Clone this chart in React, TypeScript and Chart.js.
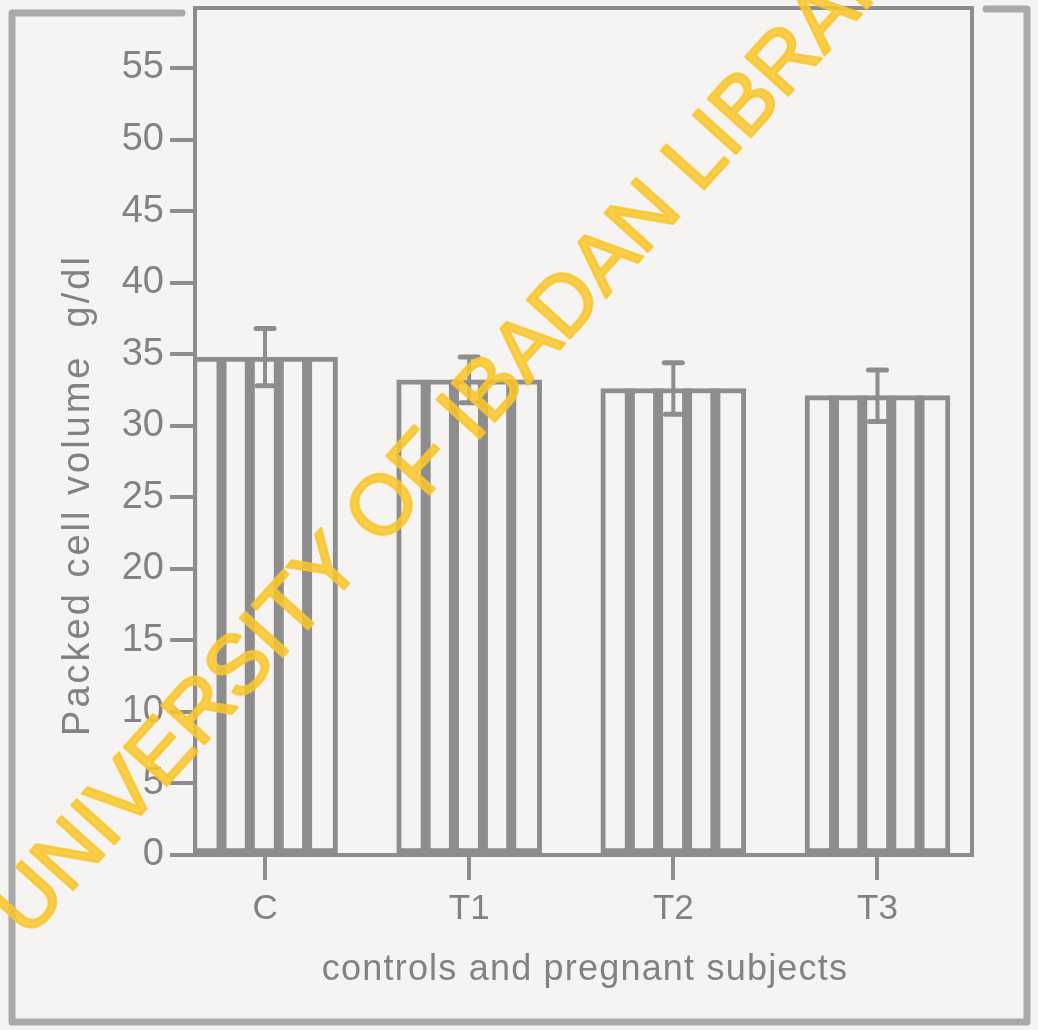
import React, { useEffect, useRef } from "react";
import { Chart, registerables } from "chart.js";

Chart.register(...registerables);

// ---- data ----
const CATEGORIES = ["C", "T1", "T2", "T3"];
const MEANS = [34.8, 33.2, 32.6, 32.1];
const ERRORS = [2.0, 1.6, 1.8, 1.8];
const Y_TICKS = [0, 5, 10, 15, 20, 25, 30, 35, 40, 45, 50, 55];
const Y_TITLE = "Packed cell volume  g/dl";
const X_TITLE = "controls and pregnant subjects";
const WATERMARK = "UNIVERSITY OF IBADAN LIBRARY";

// ---- style ----
const PAPER = "#f6f4f2";
const INK = "#8d8d8d";
const TEXT = "#828282";
const FAMILY = "'Liberation Sans', Arial, sans-serif";
const STRIPE_POS = [0.2, 0.395, 0.595, 0.79];
const STRIPE_W = 10;

const decorPlugin = {
  id: "decor",
  beforeDraw(chart: any) {
    const ctx = chart.ctx;
    ctx.save();
    ctx.strokeStyle = "rgba(150,150,150,0.8)";
    ctx.lineWidth = 7;
    ctx.lineCap = "round";
    ctx.lineJoin = "round";
    ctx.beginPath();
    ctx.moveTo(182, 13);
    ctx.lineTo(12, 13);
    ctx.lineTo(12, 1022);
    ctx.lineTo(1027, 1022);
    ctx.lineTo(1027, 9);
    ctx.lineTo(986, 9);
    ctx.stroke();
    ctx.restore();
  },
  afterDatasetsDraw(chart: any) {
    const ctx = chart.ctx;
    const meta = chart.getDatasetMeta(0);
    const xs = chart.scales.x;
    const ys = chart.scales.y;
    ctx.save();
    ctx.fillStyle = INK;
    meta.data.forEach((el: any) => {
      const p = el.getProps(["x", "y", "base", "width"], true);
      const left = p.x - p.width / 2;
      STRIPE_POS.forEach((f) => {
        const cx = left + f * p.width;
        ctx.fillRect(cx - STRIPE_W / 2, p.y, STRIPE_W, p.base - p.y);
      });
    });
    // error bars
    ctx.strokeStyle = INK;
    ctx.lineCap = "round";
    MEANS.forEach((m, i) => {
      const x = xs.getPixelForValue(i);
      const yt = ys.getPixelForValue(m + ERRORS[i]);
      const yb = ys.getPixelForValue(m - ERRORS[i]);
      ctx.lineWidth = 4;
      ctx.beginPath();
      ctx.moveTo(x, yt);
      ctx.lineTo(x, yb);
      ctx.stroke();
      ctx.lineWidth = 5;
      ctx.beginPath();
      ctx.moveTo(x - 9, yt);
      ctx.lineTo(x + 9, yt);
      ctx.moveTo(x - 8, yb);
      ctx.lineTo(x + 8, yb);
      ctx.stroke();
    });
    ctx.restore();
  },
  afterDraw(chart: any) {
    const ctx = chart.ctx;
    const a = chart.chartArea;
    ctx.save();
    // plot box top & right
    ctx.strokeStyle = INK;
    ctx.lineWidth = 4;
    ctx.beginPath();
    ctx.moveTo(a.left - 2, a.top);
    ctx.lineTo(a.right, a.top);
    ctx.lineTo(a.right, a.bottom);
    ctx.stroke();

    // axis titles
    ctx.fillStyle = TEXT;
    (ctx as any).letterSpacing = "3px";
    ctx.font = `38px ${FAMILY}`;
    ctx.textAlign = "center";
    ctx.textBaseline = "alphabetic";
    ctx.save();
    ctx.translate(89, 495);
    ctx.rotate(-Math.PI / 2);
    ctx.fillText(Y_TITLE, 0, 0);
    ctx.restore();

    (ctx as any).letterSpacing = "1.2px";
    ctx.font = `36px ${FAMILY}`;
    ctx.fillText(X_TITLE, 585, 980);

    // watermark
    (ctx as any).letterSpacing = "0px";
    ctx.save();
    ctx.translate(28, 940);
    ctx.rotate((-48 * Math.PI) / 180);
    ctx.font = `84px ${FAMILY}`;
    ctx.textAlign = "left";
    ctx.fillStyle = "rgba(248,198,45,0.85)";
    ctx.strokeStyle = "rgba(248,198,45,0.85)";
    ctx.lineWidth = 2.5;
    ctx.lineJoin = "round";
    ctx.fillText(WATERMARK, 0, 0);
    ctx.strokeText(WATERMARK, 0, 0);
    ctx.restore();
    ctx.restore();
  },
};

export default function App() {
  const ref = useRef<HTMLCanvasElement | null>(null);

  useEffect(() => {
    if (!ref.current) return;
    const chart = new Chart(ref.current, {
      type: "bar",
      data: {
        datasets: [
          {
            data: CATEGORIES.map((_, i) => ({ x: i, y: MEANS[i] })) as any,
            backgroundColor: PAPER,
            borderColor: INK,
            borderWidth: 5,
            borderSkipped: false,
            barThickness: 145,
          },
        ],
      },
      options: {
        responsive: false,
        animation: false,
        layout: { padding: { top: 8, right: 66, left: 0, bottom: 0 } },
        plugins: {
          legend: { display: false },
          tooltip: { enabled: false },
        },
        scales: {
          x: {
            type: "linear",
            min: -0.343,
            max: 3.463,
            offset: false,
            afterBuildTicks: (s: any) => {
              s.ticks = CATEGORIES.map((_, i) => ({ value: i }));
            },
            afterFit: (s: any) => {
              s.height = 175;
              s.paddingLeft = 0;
              s.paddingRight = 0;
            },
            ticks: {
              callback: (v: any) => CATEGORIES[v as number] ?? "",
              font: { family: FAMILY, size: 35 },
              color: TEXT,
              padding: 8,
              autoSkip: false,
              maxRotation: 0,
            },
            grid: {
              offset: false,
              drawOnChartArea: false,
              tickLength: 25,
              lineWidth: 4,
              color: INK,
            },
            border: { display: true, color: INK, width: 4 },
          } as any,
          y: {
            min: 0,
            max: 59.19,
            afterBuildTicks: (s: any) => {
              s.ticks = Y_TICKS.map((v) => ({ value: v }));
            },
            afterFit: (s: any) => {
              s.width = 195;
              s.paddingTop = 0;
              s.paddingBottom = 0;
            },
            ticks: {
              font: { family: FAMILY, size: 38 },
              color: TEXT,
              padding: 6,
            },
            grid: {
              drawOnChartArea: false,
              tickLength: 25,
              lineWidth: 4,
              color: INK,
            },
            border: { display: true, color: INK, width: 4 },
          } as any,
        },
      },
      plugins: [decorPlugin],
    });
    return () => chart.destroy();
  }, []);

  return (
    <div
      style={{
        position: "absolute",
        left: 0,
        top: 0,
        width: 1038,
        height: 1030,
        background: PAPER,
      }}
    >
      <canvas ref={ref} width={1038} height={1030} style={{ display: "block" }} />
    </div>
  );
}
